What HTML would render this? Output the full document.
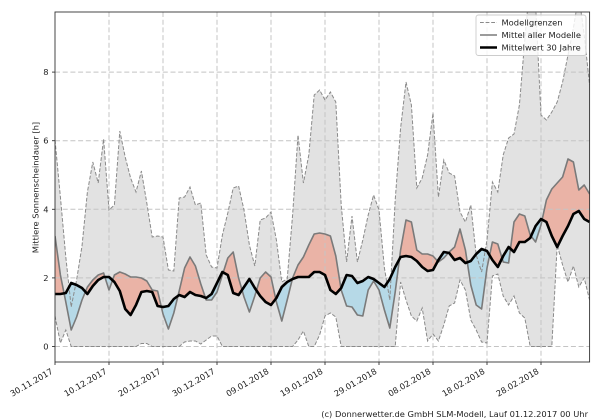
<!DOCTYPE html>
<html><head><meta charset="utf-8"><style>
html,body{margin:0;padding:0;background:#fff;}
svg{display:block;}
text{font-family:"DejaVu Sans","Liberation Sans",sans-serif;font-size:8.33px;fill:#222;}
</style></head><body>
<svg width="600" height="420" viewBox="0 0 600 420" xmlns="http://www.w3.org/2000/svg">
<defs>
<clipPath id="ax"><rect x="55" y="12" width="534.6" height="350"/></clipPath>
<clipPath id="above"><polygon points="55,0 55,294 60.4,294 65.8,293 71.2,283 76.6,285 82,288 87.4,294 92.8,286 98.2,280 103.6,277 109,277 114.4,282 119.8,291 125.2,309 130.6,315 136,305 141.4,292 146.8,291 152.2,292 157.6,306 163,307 168.4,306 173.8,299 179.2,295 184.6,297 190,292 195.4,295 200.8,296 206.2,298 211.6,294 217,283 222.4,272 227.8,275 233.2,293 238.6,295 244,287 249.4,279 254.8,288 260.2,296 265.6,302 271,305 276.4,298 281.8,287 287.2,282 292.6,279 298,277 303.4,277 308.8,277 314.2,272 319.6,272 325,275 330.4,290 335.8,294 341.2,288 346.6,275 352,276 357.4,283 362.8,281 368.2,277 373.6,279 379,283 384.4,287 389.8,279 395.2,267 400.6,257 406,256 411.4,257 416.8,261 422.2,267 427.6,271 433,270 438.4,260 443.8,252 449.2,253 454.6,260 460,258 465.4,263 470.8,261 476.2,254 481.6,249 487,251 492.4,260 497.8,267 503.2,256 508.6,247 514,252 519.4,242 524.8,242 530.2,238 535.6,226 541,219 546.4,222 551.8,236 557.2,247 562.6,236 568,226 573.4,214 578.8,211 584.2,219 589.6,222 589.6,0"/></clipPath>
<clipPath id="below"><polygon points="55,420 55,294 60.4,294 65.8,293 71.2,283 76.6,285 82,288 87.4,294 92.8,286 98.2,280 103.6,277 109,277 114.4,282 119.8,291 125.2,309 130.6,315 136,305 141.4,292 146.8,291 152.2,292 157.6,306 163,307 168.4,306 173.8,299 179.2,295 184.6,297 190,292 195.4,295 200.8,296 206.2,298 211.6,294 217,283 222.4,272 227.8,275 233.2,293 238.6,295 244,287 249.4,279 254.8,288 260.2,296 265.6,302 271,305 276.4,298 281.8,287 287.2,282 292.6,279 298,277 303.4,277 308.8,277 314.2,272 319.6,272 325,275 330.4,290 335.8,294 341.2,288 346.6,275 352,276 357.4,283 362.8,281 368.2,277 373.6,279 379,283 384.4,287 389.8,279 395.2,267 400.6,257 406,256 411.4,257 416.8,261 422.2,267 427.6,271 433,270 438.4,260 443.8,252 449.2,253 454.6,260 460,258 465.4,263 470.8,261 476.2,254 481.6,249 487,251 492.4,260 497.8,267 503.2,256 508.6,247 514,252 519.4,242 524.8,242 530.2,238 535.6,226 541,219 546.4,222 551.8,236 557.2,247 562.6,236 568,226 573.4,214 578.8,211 584.2,219 589.6,222 589.6,420"/></clipPath>
</defs>

<g clip-path="url(#ax)">
<!-- gray model range -->
<polygon fill="#e2e2e2" points="55,140 60.4,197 65.8,257 71.2,307 76.6,280 82,246 87.4,192 92.8,162 98.2,183 103.6,139 109,210 114.4,205 119.8,131 125.2,157 130.6,178 136,192 141.4,171 146.8,203 152.2,237 157.6,236 163,237 168.4,270 173.8,271 179.2,198 184.6,197 190,187 195.4,205 200.8,203 206.2,255 211.6,267 217,268 222.4,235 227.8,213 233.2,188 238.6,186 244,210 249.4,245 254.8,266 260.2,220 265.6,218 271,212 276.4,240 281.8,282 287.2,279 292.6,215 298,135 303.4,183 308.8,155 314.2,95 319.6,90 325,100 330.4,92 335.8,102 341.2,205 346.6,262 352,216 357.4,262 362.8,240 368.2,215 373.6,195 379,210 384.4,268 389.8,300 395.2,200 400.6,128 406,82 411.4,105 416.8,188 422.2,178 427.6,155 433,113 438.4,197 443.8,160 449.2,173 454.6,176 460,212 465.4,222 470.8,205 476.2,255 481.6,272 487,240 492.4,182 497.8,192 503.2,155 508.6,138 514,134 519.4,105 524.8,40 530.2,-20 535.6,5 541,115 546.4,120 551.8,112 557.2,102 562.6,82 568,55 573.4,28 578.8,-5 584.2,35 589.6,85 589.6,300 584.2,278 578.8,287 573.4,266 568,282 562.6,265 557.2,245 551.8,346.5 530.2,346.5 524.8,318 519.4,313 514,296 508.6,305 503.2,296 497.8,274 492.4,276 487,343 481.6,342 476.2,330 470.8,320 465.4,290 460,280 454.6,303 449.2,306 443.8,325 438.4,341 433,334 427.6,341 422.2,308 416.8,321 411.4,316 406,300 400.6,282 395.2,346.5 341.2,346.5 335.8,317 330.4,313 325,316 319.6,335 314.2,346.5 308.8,346.5 303.4,331 298,340 292.6,346.5 222.4,346.5 217,336 211.6,336 206.2,340 200.8,344 195.4,341 190,341 184.6,342 179.2,346.5 152.2,346.5 146.8,343.5 141.4,343.5 136,346.5 71.2,346.5 65.8,330 60.4,343 55,316"/>

<!-- red / blue -->
<g id="between">
<polygon clip-path="url(#above)" fill="#eab3a6" points="55,236 60.4,275 65.8,302 71.2,330 76.6,317 82,300 87.4,287 92.8,280 98.2,275 103.6,273 109,290 114.4,275 119.8,272 125.2,274 130.6,277 136,277 141.4,278 146.8,281 152.2,290 157.6,291 163,314 168.4,329 173.8,313 179.2,291 184.6,268 190,257 195.4,266 200.8,284 206.2,300 211.6,300 217,292 222.4,275 227.8,258 233.2,252 238.6,278 244,297 249.4,312 254.8,296 260.2,278 265.6,272 271,277 276.4,302 281.8,321 287.2,300 292.6,278 298,265 303.4,257 308.8,245 314.2,234 319.6,233 325,234 330.4,236 335.8,256 341.2,290 346.6,306 352,307 357.4,315 362.8,316 368.2,290 373.6,281 379,290 384.4,310 389.8,328 395.2,292 400.6,250 406,220 411.4,222 416.8,250 422.2,254 427.6,254 433,256 438.4,262 443.8,258 449.2,252 454.6,247 460,229 465.4,250 470.8,285 476.2,305 481.6,309 487,268 492.4,242 497.8,244 503.2,262 508.6,263 514,222 519.4,214 524.8,216 530.2,235 535.6,242 541,225 546.4,200 551.8,189 557.2,183 562.6,177 568,159 573.4,162 578.8,190 584.2,185 589.6,194 589.6,222 584.2,219 578.8,211 573.4,214 568,226 562.6,236 557.2,247 551.8,236 546.4,222 541,219 535.6,226 530.2,238 524.8,242 519.4,242 514,252 508.6,247 503.2,256 497.8,267 492.4,260 487,251 481.6,249 476.2,254 470.8,261 465.4,263 460,258 454.6,260 449.2,253 443.8,252 438.4,260 433,270 427.6,271 422.2,267 416.8,261 411.4,257 406,256 400.6,257 395.2,267 389.8,279 384.4,287 379,283 373.6,279 368.2,277 362.8,281 357.4,283 352,276 346.6,275 341.2,288 335.8,294 330.4,290 325,275 319.6,272 314.2,272 308.8,277 303.4,277 298,277 292.6,279 287.2,282 281.8,287 276.4,298 271,305 265.6,302 260.2,296 254.8,288 249.4,279 244,287 238.6,295 233.2,293 227.8,275 222.4,272 217,283 211.6,294 206.2,298 200.8,296 195.4,295 190,292 184.6,297 179.2,295 173.8,299 168.4,306 163,307 157.6,306 152.2,292 146.8,291 141.4,292 136,305 130.6,315 125.2,309 119.8,291 114.4,282 109,277 103.6,277 98.2,280 92.8,286 87.4,294 82,288 76.6,285 71.2,283 65.8,293 60.4,294 55,294"/>
<polygon clip-path="url(#below)" fill="#b6d9e7" points="55,236 60.4,275 65.8,302 71.2,330 76.6,317 82,300 87.4,287 92.8,280 98.2,275 103.6,273 109,290 114.4,275 119.8,272 125.2,274 130.6,277 136,277 141.4,278 146.8,281 152.2,290 157.6,291 163,314 168.4,329 173.8,313 179.2,291 184.6,268 190,257 195.4,266 200.8,284 206.2,300 211.6,300 217,292 222.4,275 227.8,258 233.2,252 238.6,278 244,297 249.4,312 254.8,296 260.2,278 265.6,272 271,277 276.4,302 281.8,321 287.2,300 292.6,278 298,265 303.4,257 308.8,245 314.2,234 319.6,233 325,234 330.4,236 335.8,256 341.2,290 346.6,306 352,307 357.4,315 362.8,316 368.2,290 373.6,281 379,290 384.4,310 389.8,328 395.2,292 400.6,250 406,220 411.4,222 416.8,250 422.2,254 427.6,254 433,256 438.4,262 443.8,258 449.2,252 454.6,247 460,229 465.4,250 470.8,285 476.2,305 481.6,309 487,268 492.4,242 497.8,244 503.2,262 508.6,263 514,222 519.4,214 524.8,216 530.2,235 535.6,242 541,225 546.4,200 551.8,189 557.2,183 562.6,177 568,159 573.4,162 578.8,190 584.2,185 589.6,194 589.6,222 584.2,219 578.8,211 573.4,214 568,226 562.6,236 557.2,247 551.8,236 546.4,222 541,219 535.6,226 530.2,238 524.8,242 519.4,242 514,252 508.6,247 503.2,256 497.8,267 492.4,260 487,251 481.6,249 476.2,254 470.8,261 465.4,263 460,258 454.6,260 449.2,253 443.8,252 438.4,260 433,270 427.6,271 422.2,267 416.8,261 411.4,257 406,256 400.6,257 395.2,267 389.8,279 384.4,287 379,283 373.6,279 368.2,277 362.8,281 357.4,283 352,276 346.6,275 341.2,288 335.8,294 330.4,290 325,275 319.6,272 314.2,272 308.8,277 303.4,277 298,277 292.6,279 287.2,282 281.8,287 276.4,298 271,305 265.6,302 260.2,296 254.8,288 249.4,279 244,287 238.6,295 233.2,293 227.8,275 222.4,272 217,283 211.6,294 206.2,298 200.8,296 195.4,295 190,292 184.6,297 179.2,295 173.8,299 168.4,306 163,307 157.6,306 152.2,292 146.8,291 141.4,292 136,305 130.6,315 125.2,309 119.8,291 114.4,282 109,277 103.6,277 98.2,280 92.8,286 87.4,294 82,288 76.6,285 71.2,283 65.8,293 60.4,294 55,294"/>
</g>

<!-- grid -->
<g stroke="#c4c4c4" stroke-width="1" stroke-dasharray="5,2.7" fill="none">
<line x1="55" y1="346.5" x2="590" y2="346.5"/>
<line x1="55" y1="277.9" x2="590" y2="277.9"/>
<line x1="55" y1="209.3" x2="590" y2="209.3"/>
<line x1="55" y1="140.7" x2="590" y2="140.7"/>
<line x1="55" y1="72.1" x2="590" y2="72.1"/>
<line x1="109" y1="12" x2="109" y2="362"/>
<line x1="163" y1="12" x2="163" y2="362"/>
<line x1="217" y1="12" x2="217" y2="362"/>
<line x1="271" y1="12" x2="271" y2="362"/>
<line x1="325" y1="12" x2="325" y2="362"/>
<line x1="379" y1="12" x2="379" y2="362"/>
<line x1="433" y1="12" x2="433" y2="362"/>
<line x1="487" y1="12" x2="487" y2="362"/>
<line x1="541" y1="12" x2="541" y2="362"/>
</g>

<!-- bounds -->
<g fill="none" stroke="#8a8a8a" stroke-width="1" stroke-dasharray="3.8,1.8">
<polyline points="55,140 60.4,197 65.8,257 71.2,307 76.6,280 82,246 87.4,192 92.8,162 98.2,183 103.6,139 109,210 114.4,205 119.8,131 125.2,157 130.6,178 136,192 141.4,171 146.8,203 152.2,237 157.6,236 163,237 168.4,270 173.8,271 179.2,198 184.6,197 190,187 195.4,205 200.8,203 206.2,255 211.6,267 217,268 222.4,235 227.8,213 233.2,188 238.6,186 244,210 249.4,245 254.8,266 260.2,220 265.6,218 271,212 276.4,240 281.8,282 287.2,279 292.6,215 298,135 303.4,183 308.8,155 314.2,95 319.6,90 325,100 330.4,92 335.8,102 341.2,205 346.6,262 352,216 357.4,262 362.8,240 368.2,215 373.6,195 379,210 384.4,268 389.8,300 395.2,200 400.6,128 406,82 411.4,105 416.8,188 422.2,178 427.6,155 433,113 438.4,197 443.8,160 449.2,173 454.6,176 460,212 465.4,222 470.8,205 476.2,255 481.6,272 487,240 492.4,182 497.8,192 503.2,155 508.6,138 514,134 519.4,105 524.8,40 530.2,-20 535.6,5 541,115 546.4,120 551.8,112 557.2,102 562.6,82 568,55 573.4,28 578.8,-5 584.2,35 589.6,85"/>
<polyline points="55,316 60.4,343 65.8,330 71.2,346.5 136,346.5 141.4,343.5 146.8,343.5 152.2,346.5 179.2,346.5 184.6,342 190,341 195.4,341 200.8,344 206.2,340 211.6,336 217,336 222.4,346.5 292.6,346.5 298,340 303.4,331 308.8,346.5 314.2,346.5 319.6,335 325,316 330.4,313 335.8,317 341.2,346.5 395.2,346.5 400.6,282 406,300 411.4,316 416.8,321 422.2,308 427.6,341 433,334 438.4,341 443.8,325 449.2,306 454.6,303 460,280 465.4,290 470.8,320 476.2,330 481.6,342 487,343 492.4,276 497.8,274 503.2,296 508.6,305 514,296 519.4,313 524.8,318 530.2,346.5 551.8,346.5 557.2,245 562.6,265 568,282 573.4,266 578.8,287 584.2,278 589.6,300"/>
</g>

<!-- mean of all models -->
<polyline fill="none" stroke="#7a7a7a" stroke-width="1.6" stroke-linejoin="round" points="55,236 60.4,275 65.8,302 71.2,330 76.6,317 82,300 87.4,287 92.8,280 98.2,275 103.6,273 109,290 114.4,275 119.8,272 125.2,274 130.6,277 136,277 141.4,278 146.8,281 152.2,290 157.6,291 163,314 168.4,329 173.8,313 179.2,291 184.6,268 190,257 195.4,266 200.8,284 206.2,300 211.6,300 217,292 222.4,275 227.8,258 233.2,252 238.6,278 244,297 249.4,312 254.8,296 260.2,278 265.6,272 271,277 276.4,302 281.8,321 287.2,300 292.6,278 298,265 303.4,257 308.8,245 314.2,234 319.6,233 325,234 330.4,236 335.8,256 341.2,290 346.6,306 352,307 357.4,315 362.8,316 368.2,290 373.6,281 379,290 384.4,310 389.8,328 395.2,292 400.6,250 406,220 411.4,222 416.8,250 422.2,254 427.6,254 433,256 438.4,262 443.8,258 449.2,252 454.6,247 460,229 465.4,250 470.8,285 476.2,305 481.6,309 487,268 492.4,242 497.8,244 503.2,262 508.6,263 514,222 519.4,214 524.8,216 530.2,235 535.6,242 541,225 546.4,200 551.8,189 557.2,183 562.6,177 568,159 573.4,162 578.8,190 584.2,185 589.6,194"/>

<!-- 30 year mean -->
<polyline fill="none" stroke="#000" stroke-width="2.6" stroke-linejoin="round" points="55,294 60.4,294 65.8,293 71.2,283 76.6,285 82,288 87.4,294 92.8,286 98.2,280 103.6,277 109,277 114.4,282 119.8,291 125.2,309 130.6,315 136,305 141.4,292 146.8,291 152.2,292 157.6,306 163,307 168.4,306 173.8,299 179.2,295 184.6,297 190,292 195.4,295 200.8,296 206.2,298 211.6,294 217,283 222.4,272 227.8,275 233.2,293 238.6,295 244,287 249.4,279 254.8,288 260.2,296 265.6,302 271,305 276.4,298 281.8,287 287.2,282 292.6,279 298,277 303.4,277 308.8,277 314.2,272 319.6,272 325,275 330.4,290 335.8,294 341.2,288 346.6,275 352,276 357.4,283 362.8,281 368.2,277 373.6,279 379,283 384.4,287 389.8,279 395.2,267 400.6,257 406,256 411.4,257 416.8,261 422.2,267 427.6,271 433,270 438.4,260 443.8,252 449.2,253 454.6,260 460,258 465.4,263 470.8,261 476.2,254 481.6,249 487,251 492.4,260 497.8,267 503.2,256 508.6,247 514,252 519.4,242 524.8,242 530.2,238 535.6,226 541,219 546.4,222 551.8,236 557.2,247 562.6,236 568,226 573.4,214 578.8,211 584.2,219 589.6,222"/>
</g>

<!-- axes frame -->
<rect x="55" y="12" width="534.6" height="350" fill="none" stroke="#333" stroke-width="0.9"/>

<!-- ticks -->
<g stroke="#333" stroke-width="0.9">
<line x1="52" y1="346.5" x2="55" y2="346.5"/>
<line x1="52" y1="277.9" x2="55" y2="277.9"/>
<line x1="52" y1="209.3" x2="55" y2="209.3"/>
<line x1="52" y1="140.7" x2="55" y2="140.7"/>
<line x1="52" y1="72.1" x2="55" y2="72.1"/>
<line x1="55" y1="362" x2="55" y2="365"/>
<line x1="109" y1="362" x2="109" y2="365"/>
<line x1="163" y1="362" x2="163" y2="365"/>
<line x1="217" y1="362" x2="217" y2="365"/>
<line x1="271" y1="362" x2="271" y2="365"/>
<line x1="325" y1="362" x2="325" y2="365"/>
<line x1="379" y1="362" x2="379" y2="365"/>
<line x1="433" y1="362" x2="433" y2="365"/>
<line x1="487" y1="362" x2="487" y2="365"/>
<line x1="541" y1="362" x2="541" y2="365"/>
</g>

<!-- y tick labels -->
<g text-anchor="end">
<text x="48.5" y="349.5">0</text>
<text x="48.5" y="281">2</text>
<text x="48.5" y="212.3">4</text>
<text x="48.5" y="143.7">6</text>
<text x="48.5" y="75.1">8</text>
</g>
<text text-anchor="middle" transform="translate(38.5,187.5) rotate(-90)">Mittlere Sonnenscheindauer [h]</text>

<!-- x tick labels -->
<g text-anchor="end">
<text transform="translate(53.5,373) rotate(-30)">30.11.2017</text>
<text transform="translate(107.5,373) rotate(-30)">10.12.2017</text>
<text transform="translate(161.5,373) rotate(-30)">20.12.2017</text>
<text transform="translate(215.5,373) rotate(-30)">30.12.2017</text>
<text transform="translate(269.5,373) rotate(-30)">09.01.2018</text>
<text transform="translate(323.5,373) rotate(-30)">19.01.2018</text>
<text transform="translate(377.5,373) rotate(-30)">29.01.2018</text>
<text transform="translate(431.5,373) rotate(-30)">08.02.2018</text>
<text transform="translate(485.5,373) rotate(-30)">18.02.2018</text>
<text transform="translate(539.5,373) rotate(-30)">28.02.2018</text>
</g>

<!-- legend -->
<rect x="476" y="15" width="110" height="40.5" rx="2.5" ry="2.5" fill="#fff" fill-opacity="0.82" stroke="#cccccc" stroke-width="0.9"/>
<line x1="480" y1="22.5" x2="497" y2="22.5" stroke="#8a8a8a" stroke-width="1" stroke-dasharray="3.8,1.8"/>
<line x1="480" y1="35" x2="497" y2="35" stroke="#7a7a7a" stroke-width="1.6"/>
<line x1="480" y1="47.5" x2="497" y2="47.5" stroke="#000" stroke-width="2.6"/>
<text x="501.5" y="25.5">Modellgrenzen</text>
<text x="501.5" y="38">Mittel aller Modelle</text>
<text x="501.5" y="50.5">Mittelwert 30 Jahre</text>

<!-- credit -->
<text x="588" y="417" text-anchor="end">(c) Donnerwetter.de GmbH SLM-Modell, Lauf 01.12.2017 00 Uhr</text>
</svg>
</body></html>
